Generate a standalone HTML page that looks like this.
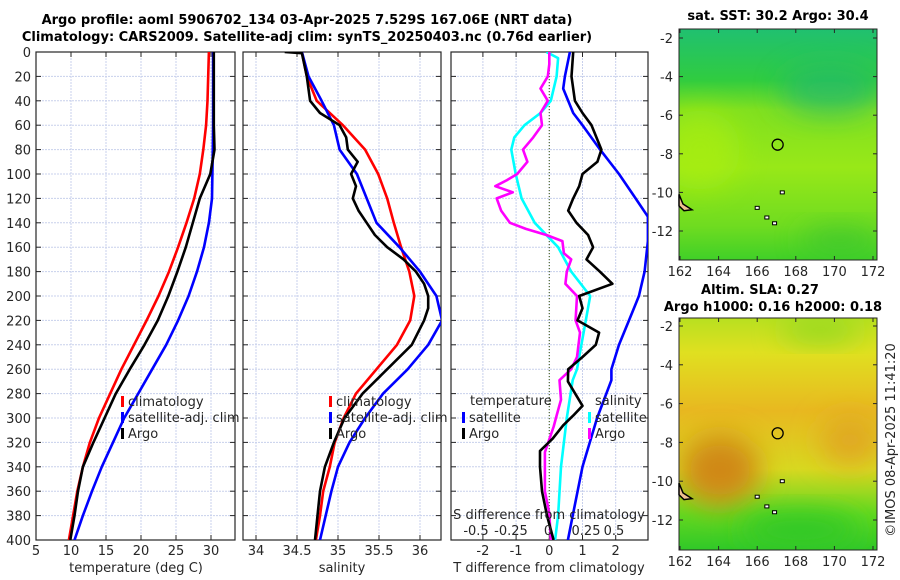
<!DOCTYPE html>
<html><head><meta charset="utf-8"><style>
body{margin:0;background:#fff}
svg{display:block;font-family:"DejaVu Sans","Liberation Sans",sans-serif}
.t{font-size:13px;fill:#262626}
.b{font-size:13px;font-weight:bold;fill:#000}
</style></head><body>
<svg id="s" width="900" height="580" viewBox="0 0 900 580">
<defs>
<clipPath id="c1"><rect x="36" y="52" width="199" height="488"/></clipPath>
<clipPath id="c2"><rect x="243" y="52" width="198" height="488"/></clipPath>
<clipPath id="c3"><rect x="451" y="52" width="197" height="488"/></clipPath>
<clipPath id="m1"><rect x="679" y="29" width="198" height="231"/></clipPath>
<clipPath id="m2"><rect x="679" y="318" width="198" height="232"/></clipPath>
<filter id="bl" x="-50%" y="-50%" width="200%" height="200%"><feGaussianBlur stdDeviation="14"/></filter>
<linearGradient id="g1" x1="0" y1="0" x2="0" y2="1">
<stop offset="0" stop-color="#20c070"/><stop offset="0.22" stop-color="#30cc40"/><stop offset="0.35" stop-color="#80e020"/><stop offset="0.6" stop-color="#98e818"/><stop offset="0.85" stop-color="#70dc20"/><stop offset="1" stop-color="#40d028"/></linearGradient>
<linearGradient id="g2" x1="0" y1="0" x2="0" y2="1">
<stop offset="0" stop-color="#b8e020"/><stop offset="0.15" stop-color="#e0e020"/><stop offset="0.4" stop-color="#e8b820"/><stop offset="0.65" stop-color="#d8d820"/><stop offset="0.85" stop-color="#60d820"/><stop offset="1" stop-color="#30c828"/></linearGradient>
</defs>
<text class="b" x="307" y="24" text-anchor="middle">Argo profile: aoml 5906702_134 03-Apr-2025 7.529S 167.06E (NRT data)</text>
<text class="b" x="307" y="41" text-anchor="middle">Climatology: CARS2009. Satellite-adj clim: synTS_20250403.nc (0.76d earlier)</text>
<g id="maps">
<g clip-path="url(#m1)">
<rect x="679" y="29" width="198" height="231" fill="url(#g1)"/>
<ellipse cx="830" cy="90" rx="50" ry="25" fill="#20b870" filter="url(#bl)" opacity="0.7"/>
<ellipse cx="700" cy="150" rx="40" ry="40" fill="#b0f010" filter="url(#bl)" opacity="0.6"/>
<ellipse cx="840" cy="240" rx="40" ry="14" fill="#30c030" filter="url(#bl)" opacity="0.6"/>
</g>
<g clip-path="url(#m2)">
<rect x="679" y="318" width="198" height="232" fill="url(#g2)"/>
<ellipse cx="720" cy="470" rx="40" ry="35" fill="#d08818" filter="url(#bl)"/>
<ellipse cx="850" cy="440" rx="30" ry="25" fill="#e0a820" filter="url(#bl)"/>
<ellipse cx="800" cy="530" rx="60" ry="18" fill="#30c828" filter="url(#bl)"/>
<ellipse cx="820" cy="330" rx="40" ry="12" fill="#90d820" filter="url(#bl)"/>
</g>
</g>
<g id="plots"></g>
</svg>
<script>
const depths=[0,20,40,60,80,100,120,140,160,180,200,220,240,260,280,300,320,340,360,380,400];
const tClim=[29.7,29.6,29.5,29.3,28.9,28.4,27.6,26.5,25.3,24.0,22.5,20.8,19.0,17.2,15.6,14.0,12.7,11.7,10.9,10.3,9.7];
const tSat=[30.3,30.3,30.3,30.3,30.25,30.2,30.15,29.7,29.0,28.0,26.8,25.3,23.6,21.6,19.6,17.6,16.0,14.4,13.0,11.7,10.5];
const tArgo=[30.4,30.4,30.4,30.4,30.5,29.9,28.4,27.4,26.4,25.2,23.9,22.4,20.5,18.4,16.4,14.8,13.2,11.7,11.0,10.5,9.9];
const sClim=[34.56,34.62,34.74,35.06,35.33,35.49,35.6,35.68,35.77,35.87,35.93,35.88,35.72,35.47,35.22,35.07,34.96,34.9,34.82,34.78,34.73];
const sSat=[34.56,34.64,34.8,34.95,35.02,35.23,35.35,35.47,35.75,36.0,36.2,36.27,36.1,35.85,35.55,35.33,35.14,35.0,34.92,34.85,34.78];
const sArgoD=[0,1,20,40,50,60,70,80,90,100,110,120,130,140,150,160,170,180,190,200,210,220,240,260,280,300,320,340,360,380,400];
const sArgo=[34.35,34.56,34.62,34.66,34.78,35.02,35.1,35.12,35.24,35.16,35.22,35.18,35.25,35.35,35.45,35.6,35.8,35.95,36.05,36.1,36.1,36.05,35.9,35.6,35.3,35.08,34.95,34.84,34.78,34.75,34.72];
const dSatD=[0,20,30,50,60,80,100,120,135,155,180,200,220,240,260,269,300,340,378,400];
const dTSat=[0.62,0.47,0.42,0.72,1.0,1.53,2.1,2.6,2.97,2.97,2.87,2.7,2.4,2.1,1.87,1.87,1.44,1.0,0.72,0.56];
const dArgoD=[0,20,40,50,60,80,90,100,110,120,130,140,150,160,170,180,190,200,210,220,230,240,250,260,270,290,298,306,317,327,340,360,380,400];
const dTArgo=[0.72,0.67,0.77,1.0,1.27,1.57,1.45,1.0,0.9,0.72,0.57,0.82,1.17,1.32,1.12,1.52,1.9,0.9,1.0,0.85,1.5,1.4,1.0,0.57,0.56,1.0,0.72,0.42,0.1,-0.28,-0.28,-0.22,-0.07,0.13];
const sDiffArgoD=[0,10,20,30,40,50,60,70,80,90,100,105,110,115,120,130,140,145,150,155,165,170,180,190,200,220,230,240,250,260,269,285,298,307,328,360,378,400];
const dSArgo=[0,0,-0.01,-0.06,-0.01,-0.06,-0.05,-0.11,-0.18,-0.15,-0.22,-0.29,-0.37,-0.25,-0.36,-0.33,-0.27,-0.16,-0.02,0.09,0.1,0.15,0.12,0.11,0.19,0.18,0.21,0.2,0.19,0.15,0.07,0.08,0.05,0.03,-0.03,-0.03,0,0.01];
const sDiffSatD=[0,5,20,40,50,60,70,80,100,120,140,160,180,200,220,240,260,269,300,340,380,400];
const dSSat=[-0.02,0.06,0.05,0.01,-0.06,-0.17,-0.24,-0.26,-0.23,-0.19,-0.1,0.06,0.15,0.28,0.25,0.22,0.19,0.16,0.12,0.08,0.06,0.04];
const depthTicks=[0,20,40,60,80,100,120,140,160,180,200,220,240,260,280,300,320,340,360,380,400];
const tTicks=[5,10,15,20,25,30];
const sTicks=[34,34.5,35,35.5,36];
const dtTicks=[-2,-1,0,1,2];
const lonTicks=[162,164,166,168,170,172];
const latTicks=[-2,-4,-6,-8,-10,-12];

const NS='http://www.w3.org/2000/svg';
const G=document.getElementById('plots');
function mk(tag,at,parent){const e=document.createElementNS(NS,tag);for(const k in at)e.setAttribute(k,at[k]);(parent||G).appendChild(e);return e;}
const yD=d=>52+d*1.22;
const xT=v=>36+(v-5)*7;
const xS=v=>256+(v-34)*82;
const xDT=v=>549.3+v*33.2;
const xDS=v=>549.3+v*146;

function panel(x0,w,ticks,xf,labels,name){
  const g=mk('g',{});
  
  
  depthTicks.forEach(d=>{const l=mk('line',{x1:x0,x2:x0+w,y1:yD(d),y2:yD(d),stroke:'#c8d0ec','stroke-width':1,'stroke-dasharray':'2,1'},g);});
  ticks.forEach(v=>{const x=xf(v);const l=mk('line',{x1:x,x2:x,y1:52,y2:540,stroke:'#c8d0ec','stroke-width':1,'stroke-dasharray':'2,1'},g);
    mk('line',{x1:x,x2:x,y1:540,y2:535,stroke:'#262626'},g);mk('line',{x1:x,x2:x,y1:52,y2:57,stroke:'#262626'},g);
    if(labels){const t=mk('text',{x:x,y:555,class:'t','text-anchor':'middle'},g);t.textContent=String(v);}});
  depthTicks.forEach(d=>{mk('line',{x1:x0,x2:x0+5,y1:yD(d),y2:yD(d),stroke:'#262626'},g);mk('line',{x1:x0+w,x2:x0+w-5,y1:yD(d),y2:yD(d),stroke:'#262626'},g);});
  const r=mk('rect',{x:x0,y:52,width:w,height:488,fill:'none',stroke:'#262626','stroke-width':1.2},g);
  
  return g;
}
function line(xs,ds,xf,color,clip,name,w){
  const p=mk('polyline',{points:xs.map((v,i)=>xf(v).toFixed(1)+','+yD(ds[i]).toFixed(1)).join(' '),fill:'none',stroke:color,'stroke-width':w||2.6,'clip-path':clip,'stroke-linejoin':'round'});
  
}
function txt(x,y,s,name,anchor,cls){const t=mk('text',{x:x,y:y,class:cls||'t','text-anchor':anchor||'start'});t.textContent=s;return t;}
function leg(x,y,color,s,name){const b=mk('rect',{x:x,y:y-10,width:3,height:11,fill:color});txt(x+7,y,s,name);}

panel(36,199,tTicks,xT,true,'temperature-panel');
depthTicks.forEach(d=>{txt(31,yD(d)+5,String(d),'depth-tick-label','end');});
line(tClim,depths,xT,'#ff0000','url(#c1)','temp-climatology-line');
line(tSat,depths,xT,'#0000ff','url(#c1)','temp-satellite-line');
line(tArgo,depths,xT,'#000000','url(#c1)','temp-argo-line');
txt(136,572,'temperature (deg C)','temperature-axis-title','middle');
leg(121,406,'#ff0000','climatology','legend-climatology');
leg(121,422,'#0000ff','satellite-adj. clim','legend-satellite');
leg(121,438,'#000000','Argo','legend-argo');

panel(243,198,sTicks,xS,true,'salinity-panel');
line(sClim,depths,xS,'#ff0000','url(#c2)','sal-climatology-line');
line(sSat,depths,xS,'#0000ff','url(#c2)','sal-satellite-line');
line(sArgo,sArgoD,xS,'#000000','url(#c2)','sal-argo-line');
txt(342,572,'salinity','salinity-axis-title','middle');
leg(329,406,'#ff0000','climatology','legend2-climatology');
leg(329,422,'#0000ff','satellite-adj. clim','legend2-satellite');
leg(329,438,'#000000','Argo','legend2-argo');

panel(451,197,dtTicks,xDT,true,'difference-panel');
mk('line',{x1:xDT(0),x2:xDT(0),y1:52,y2:540,stroke:'#556b2f','stroke-dasharray':'1,2','stroke-width':1.2});
line(dSSat,sDiffSatD,xDS,'#00ffff','url(#c3)','sdiff-satellite-line');
line(dSArgo,sDiffArgoD,xDS,'#ff00ff','url(#c3)','sdiff-argo-line');
line(dTSat,dSatD,xDT,'#0000ff','url(#c3)','tdiff-satellite-line');
line(dTArgo,dArgoD,xDT,'#000000','url(#c3)','tdiff-argo-line');
txt(470,405,'temperature','legend3-temperature-header');
txt(595,405,'salinity','legend3-salinity-header');
leg(462,422,'#0000ff','satellite','legend3-t-satellite');
leg(462,438,'#000000','Argo','legend3-t-argo');
leg(588,422,'#00ffff','satellite','legend3-s-satellite');
leg(588,438,'#ff00ff','Argo','legend3-s-argo');
txt(549,519,'S difference from climatology','s-diff-axis-title','middle');
[['-0.5',476],['-0.25',511],['0',548],['0.25',586],['0.5',614]].forEach(a=>txt(a[1],535,a[0],'s-diff-tick-label','middle'));
txt(549,572,'T difference from climatology','t-diff-axis-title','middle');

// maps
const lonX=l=>680+(l-162)*19.3;
function mapAxes(y0,h,latY,name){
  const g=mk('g',{});
  mk('rect',{x:679,y:y0,width:198,height:h,fill:'none',stroke:'#262626','stroke-width':1},g);
  lonTicks.forEach(l=>{const x=lonX(l);mk('line',{x1:x,x2:x,y1:y0+h,y2:y0+h-4,stroke:'#262626'},g);mk('line',{x1:x,x2:x,y1:y0,y2:y0+4,stroke:'#262626'},g);
    const t=mk('text',{x:x,y:y0+h+16,class:'t','text-anchor':'middle'},g);t.textContent=String(l);});
  latTicks.forEach(a=>{const y=latY(a);mk('line',{x1:679,x2:683,y1:y,y2:y,stroke:'#262626'},g);mk('line',{x1:877,x2:873,y1:y,y2:y,stroke:'#262626'},g);
    const t=mk('text',{x:673,y:y+5,class:'t','text-anchor':'end'},g);t.textContent=String(a);});
  const lx=lonX(167.06),ly=latY(-7.529);
  const c=mk('circle',{cx:lx,cy:ly,r:5.5,fill:'none',stroke:'#000','stroke-width':1.3},g);
  const isl=mk('path',{d:`M679 ${latY(-10.1)} L683 ${latY(-10.6)} L692 ${latY(-10.9)} L684 ${latY(-10.95)} L679 ${latY(-10.7)}Z`,fill:'#f0c090',stroke:'#000','stroke-width':1.5},g);
  [[166,-10.8],[166.9,-11.6],[166.5,-11.3],[167.3,-10.0]].forEach(p=>{mk('rect',{x:lonX(p[0])-2,y:latY(p[1])-1.5,width:4,height:3,fill:'#fff',stroke:'#000'},g);});
}
mapAxes(29,231,a=>38+(-2-a)*19.3,'sst-map-axes');
mapAxes(318,232,a=>326+(-2-a)*19.4,'sla-map-axes');
txt(778,20,'sat. SST: 30.2 Argo: 30.4','sst-map-title','middle','b');
txt(760,294,'Altim. SLA: 0.27','sla-map-title','middle','b');
txt(773,311,'Argo h1000: 0.16 h2000: 0.18','sla-map-subtitle','middle','b');
const im=txt(0,0,'©IMOS 08-Apr-2025 11:41:20','imos-credit','middle');
im.setAttribute('transform','translate(895,440) rotate(-90)');
</script>
</body></html>
